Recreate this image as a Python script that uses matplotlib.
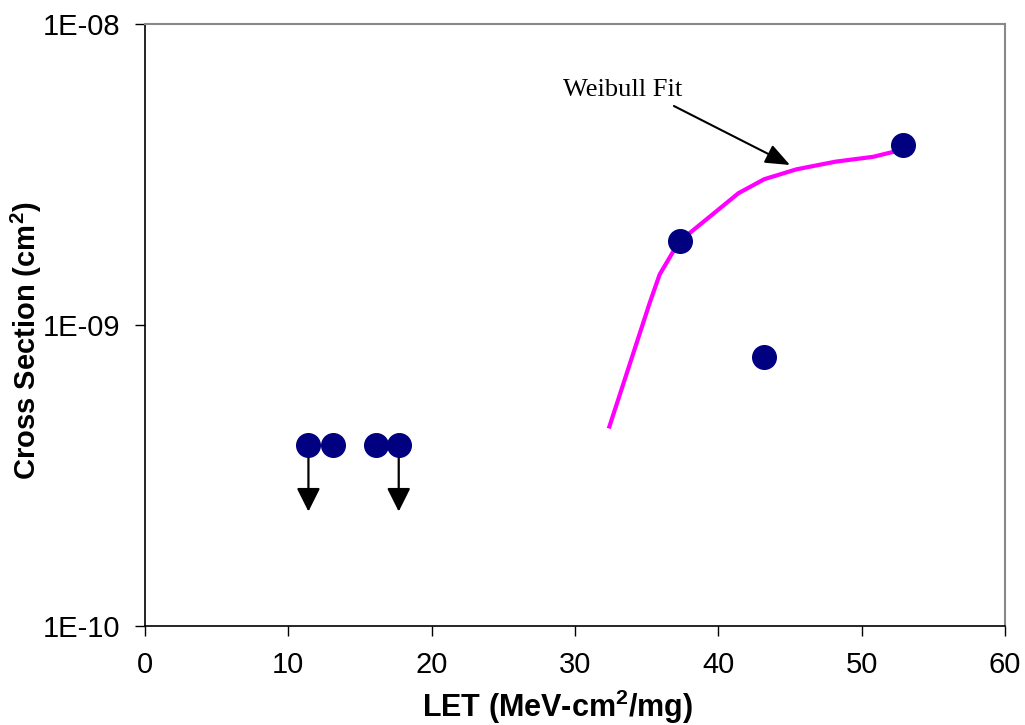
import matplotlib.pyplot as plt

# measured points
let_pts = [11.4, 13.1, 16.1, 17.7, 37.3, 43.2, 52.9]
xs_pts = [4.0e-10, 4.0e-10, 4.0e-10, 4.0e-10, 1.9e-9, 7.8e-10, 3.95e-9]

# upper-limit arrows (no upsets seen)
lim_let = [11.4, 17.7]
lim_top = 4.0e-10
lim_bot = 2.4e-10

# weibull fit curve
fit_let = [32.4, 35.2, 35.9, 37.25, 39.4, 41.4, 43.2, 45.45, 48.2, 50.8, 52.3, 52.9]
fit_xs = [4.6e-10, 1.18e-9, 1.47e-9, 1.89e-9, 2.29e-9, 2.74e-9, 3.05e-9, 3.29e-9,
          3.49e-9, 3.62e-9, 3.77e-9, 3.95e-9]

plt.rcParams['font.family'] = ['Liberation Sans', 'DejaVu Sans']

fig = plt.figure(figsize=(10.25, 7.25), dpi=100)
ax = fig.add_axes([0.1415, 0.1366, 0.839, 0.8303])

ax.plot(fit_let, fit_xs, color='#FF00FF', lw=3, zorder=2)
ax.plot(let_pts, xs_pts, 'o', color='#000080', ms=17, mec='#000080', zorder=3)

for x in lim_let:
    ax.annotate('', xy=(x, lim_bot), xytext=(x, lim_top),
                arrowprops=dict(arrowstyle='-|>,head_length=0.72,head_width=0.36',
                                mutation_scale=20, color='black', lw=1.6,
                                shrinkA=0, shrinkB=0), zorder=2)

ax.text(33.3, 6.05e-9, 'Weibull Fit', fontsize=19, family='Liberation Serif',
        ha='center', va='center')
ax.annotate('', xy=(45.0, 3.4e-9), xytext=(36.9, 5.34e-9),
            arrowprops=dict(arrowstyle='-|>,head_length=0.75,head_width=0.3',
                            mutation_scale=20, color='black', lw=1.5,
                            shrinkA=0, shrinkB=0))

ax.set_yscale('log')
ax.set_xlim(0, 60)
ax.set_ylim(1e-10, 1e-8)
ax.set_xticks([0, 10, 20, 30, 40, 50, 60])
ax.set_yticks([1e-10, 1e-9, 1e-8])
ax.set_yticklabels(['1E-10', '1E-09', '1E-08'])
ax.minorticks_off()
ax.tick_params(direction='out', length=7, width=1, labelsize=21, pad=11)

for s in ['top', 'right']:
    ax.spines[s].set_color('#888888')
    ax.spines[s].set_linewidth(1.5)
for s in ['left', 'bottom']:
    ax.spines[s].set_color('black')
    ax.spines[s].set_linewidth(1.2)

ax.set_xlabel('LET (MeV-cm$^\\mathregular{2}$/mg)', fontsize=22, fontweight='bold')
ax.set_ylabel('Cross Section (cm$^\\mathregular{2}$)', fontsize=21, fontweight='bold')
ax.xaxis.set_label_coords(0.48, -0.102)
ax.yaxis.set_label_coords(-0.117, 0.473)

fig.savefig('out.png', dpi=100)
